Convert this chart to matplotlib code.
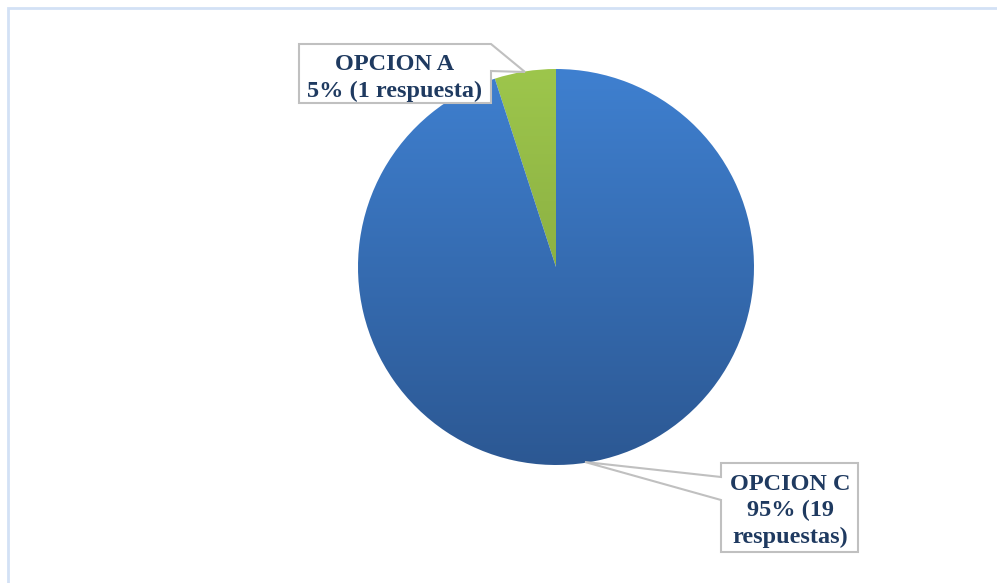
import numpy as np
import matplotlib
matplotlib.use("Agg")
import matplotlib.pyplot as plt
from matplotlib.patches import Polygon
from matplotlib.colors import LinearSegmentedColormap

# respuestas por opcion
opciones = ["OPCION A", "OPCION C"]
respuestas = [1, 19]
colores_top = ["#9dc64c", "#3f80d0"]
colores_bottom = ["#7c9c3a", "#2c5893"]

W, H = 997, 583
fig = plt.figure(figsize=(W / 100, H / 100), dpi=100)
ax = fig.add_axes([0, 0, 1, 1])

# marco del grafico
ax.plot([8, 8, W + 5], [-5, H - 8, H - 8], color="#d3e1f5", lw=2.0,
        solid_joinstyle="miter")

cx, cy, r = 556, H - 267, 198
wedges, _ = ax.pie(respuestas, startangle=90, counterclock=True,
                   center=(cx, cy), radius=r, frame=True,
                   wedgeprops=dict(linewidth=0))
ax.set_xlim(0, W)
ax.set_ylim(0, H)
ax.set_aspect("equal")
ax.axis("off")

# degradado vertical en cada sector
grad = np.linspace(0, 1, 256).reshape(-1, 1)
for w, ctop, cbot in zip(wedges, colores_top, colores_bottom):
    cmap = LinearSegmentedColormap.from_list("g", [cbot, ctop])
    w.set_facecolor("none")
    im = ax.imshow(grad, cmap=cmap, origin="lower", aspect="auto",
                   extent=(cx - r, cx + r, cy - r, cy + r), zorder=1)
    im.set_clip_path(w)

total = sum(respuestas)
pct = [round(100 * v / total) for v in respuestas]
txt_a = f"{opciones[0]}\n{pct[0]}% ({respuestas[0]} respuesta)"
txt_c = f"{opciones[1]}\n{pct[1]}% ({respuestas[1]}\nrespuestas)"

borde = "#c0c0c0"
texto = "#1f3a60"
fuente = dict(family="Liberation Serif", weight="bold", size=17.5,
              color=texto, ha="center", va="center", linespacing=1.32)

# llamada OPCION A
ya = lambda y: H - y
ax.add_patch(Polygon([(299, ya(44)), (491, ya(44)), (525, ya(72)),
                      (491, ya(71)), (491, ya(103)), (299, ya(103))],
                     closed=True, fc="white", ec=borde, lw=1.5, zorder=3))
ax.text(395, ya(78), txt_a, zorder=4, **fuente)

# llamada OPCION C
ax.add_patch(Polygon([(585, ya(462)), (721, ya(477)), (721, ya(463)),
                      (858, ya(463)), (858, ya(552)), (721, ya(552)),
                      (721, ya(500))],
                     closed=True, fc="white", ec=borde, lw=1.5, zorder=3))
ax.text(790, ya(511), txt_c, zorder=4, **fuente)

fig.savefig("out.png", dpi=100)
